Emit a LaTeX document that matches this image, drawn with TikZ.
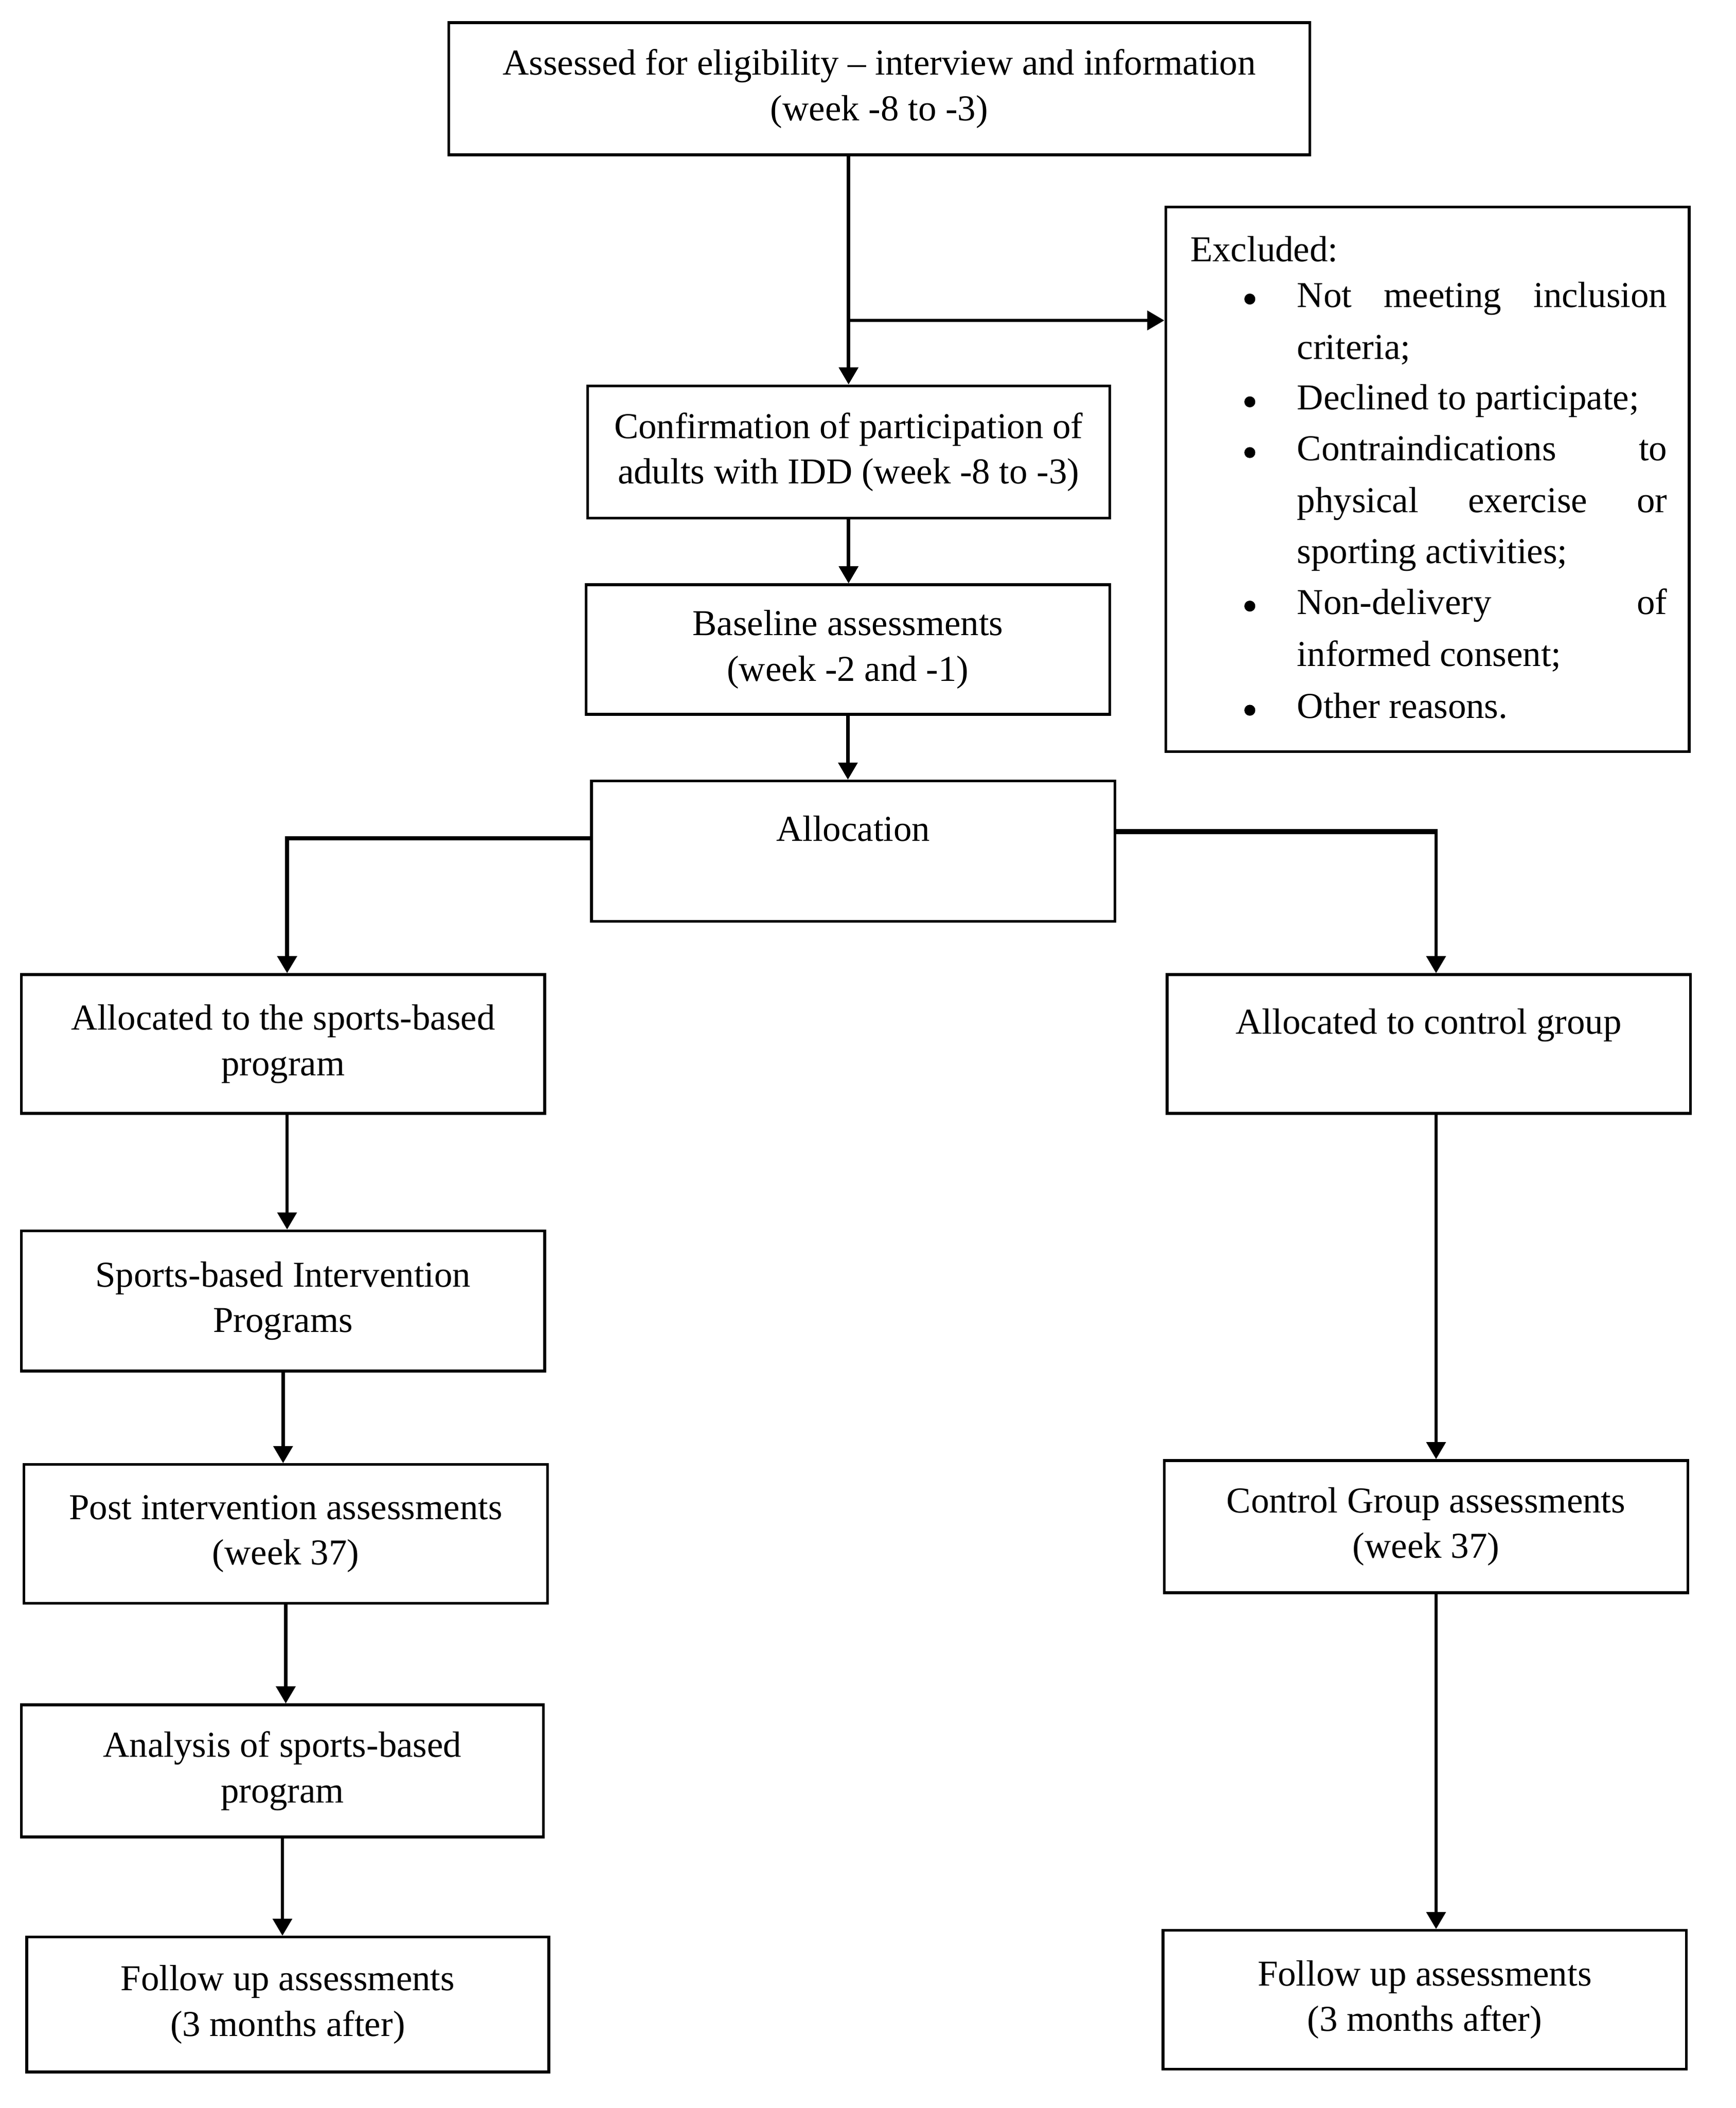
\documentclass[tikz,border=0pt]{standalone}
\usepackage{fontspec}
\setmainfont{Liberation Serif}
\usetikzlibrary{arrows.meta}
\newcommand\mybox[6]{\node[box, minimum width={(#4-#2)*0.414pt}, minimum height={(#5-#3)*0.414pt}] (#1) at ({(#2+#4)/2},{(#3+#5)/2}) {#6};}
\begin{document}
\begin{tikzpicture}[x=0.414pt,y=-0.414pt,
  box/.style={draw, line width=0.85pt, inner sep=0pt, align=center, font=\fontsize{11.3}{14.08}\selectfont},
  arr/.style={line width=1.05pt, -{Triangle[length=5.3pt,width=5.9pt]}},
  txt/.style={inner sep=0pt, anchor=base west, font=\fontsize{11.3}{14.08}\selectfont},
  bul/.style={circle, fill, inner sep=0pt, minimum size=3.4pt}]
\useasboundingbox (0,0) rectangle (1300,1579);

\mybox{top}{336}{17}{981}{116}{Assessed for eligibility – interview and information\\(week -8 to -3)}
\mybox{excl}{873}{155}{1265}{563}{}
\mybox{conf}{440}{289}{831}{388}{Confirmation of participation of\\adults with IDD (week -8 to -3)}
\mybox{base}{439}{438}{831}{535}{Baseline assessments\\(week -2 and -1)}
\mybox{alloc}{443}{585}{835}{690}{Allocation\\\mbox{}}
\mybox{sal}{16}{730}{408}{834}{Allocated to the sports-based\\program}
\mybox{cal}{874}{730}{1266}{834}{Allocated to control group\\\mbox{}}
\mybox{sip}{16}{922}{408}{1027}{Sports-based Intervention\\Programs}
\mybox{post}{18}{1097}{410}{1201}{Post intervention assessments\\(week 37)}
\mybox{cga}{872}{1094}{1264}{1193}{Control Group assessments\\(week 37)}
\mybox{ana}{16}{1277}{407}{1376}{Analysis of sports-based\\program}
\mybox{ful}{20}{1451}{411}{1552}{Follow up assessments\\(3 months after)}
\mybox{fur}{871}{1446}{1263}{1550}{Follow up assessments\\(3 months after)}

% excluded list
\node[txt] (ex0) at (891,196) {Excluded:};
\node[bul] (b1) at (936,224) {};
\node[txt] (ex1) at (971,230) {\makebox[114.7pt][s]{Not meeting inclusion}};
\node[txt] (ex2) at (971,269) {criteria;};
\node[bul] (b2) at (936,301) {};
\node[txt] (ex3) at (971,307) {Declined to participate;};
\node[bul] (b3) at (936,339) {};
\node[txt] (ex4) at (971,345) {\makebox[114.7pt][s]{Contraindications to}};
\node[txt] (ex5) at (971,384) {\makebox[114.7pt][s]{physical exercise or}};
\node[txt] (ex6) at (971,422) {sporting activities;};
\node[bul] (b4) at (936,454) {};
\node[txt] (ex7) at (971,460) {\makebox[114.7pt][s]{Non-delivery of}};
\node[txt] (ex8) at (971,499) {informed consent;};
\node[bul] (b5) at (936,532) {};
\node[txt] (ex9) at (971,538) {Other reasons.};

% connectors
\coordinate (br) at (635.5,240);
\coordinate (rc) at (1075.5,0);
\coordinate (rk) at (1075.5,623);
\draw[arr] (conf.north |- top.south) -- (conf.north);
\draw[arr] (br) -- (br -| excl.west);
\draw[arr] (conf.south) -- (conf.south |- base.north);
\draw[arr] (base.south) -- (base.south |- alloc.north);
\draw[arr, line width=1.25pt] ([yshift=9.5*0.414pt]alloc.west) -| ([xshift=3*0.414pt]sal.north);
\draw[line width=1.6pt] (alloc.east |- rk) -- ([xshift=0.5pt]rk);
\draw[arr] (rk) -- (cal.north -| rc);
\draw[arr] ([xshift=3*0.414pt]sal.south) -- ([xshift=3*0.414pt]sip.north);
\draw[arr] (sip.south) -- (sip.south |- post.north);
\draw[arr] (post.south) -- (post.south |- ana.north);
\draw[arr] (ana.south) -- (ana.south |- ful.north);
\draw[arr] (cal.south -| rc) -- (cga.north -| rc);
\draw[arr] (cga.south -| rc) -- (fur.north -| rc);
\end{tikzpicture}
\end{document}
